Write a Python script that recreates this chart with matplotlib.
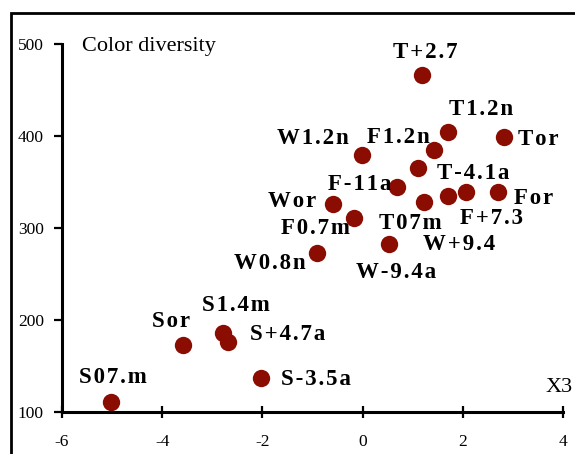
import matplotlib
matplotlib.use("Agg")
import matplotlib.pyplot as plt
from matplotlib.patches import Rectangle

# Data
labels = ["T+2.7", "T1.2n", "Tor", "W1.2n", "F1.2n", "T-4.1a", "F-11a", "Wor",
          "F0.7m", "T07m", "W+9.4", "F+7.3", "For", "W-9.4a", "W0.8n",
          "S1.4m", "Sor", "S+4.7a", "S07.m", "S-3.5a"]
x_vals = [1.18, 1.70, 2.82, -0.02, 1.42, 1.10, 0.68, -0.60,
          -0.18, 1.22, 1.70, 2.06, 2.70, 0.52, -0.92,
          -2.78, -3.58, -2.68, -5.02, -2.02]
y_vals = [466, 404, 399, 379, 385, 365, 345, 326,
          311, 328, 335, 339, 339, 283, 273,
          186, 173, 176, 111, 137]
x_ticks = [-6, -4, -2, 0, 2, 4]
y_ticks = [100, 200, 300, 400, 500]

# label offsets from each point (pixels, centre of text)
offsets = [(4, 23), (33, 23), (34, -3), (-49, 17), (-35, 12), (55, -5), (-37, 2), (-40, 3),
           (-38, -11), (-13, -21), (11, -49), (26, -26), (36, -6), (7, -29), (-47, -11),
           (13, 27), (-12, 23), (59, 8), (2, 24), (55, -2)]

serif = ["Liberation Serif", "DejaVu Serif"]
dot_color = "#8b0c00"


def spaced(s):
    # the labels in the original are letter-spaced; hair spaces mimic that
    return "\u200a".join(s)


fig = plt.figure(figsize=(5.75, 4.54), dpi=100)
ax = fig.add_axes([62 / 575, 1 - 412 / 454, 501 / 575, 368 / 454])

ax.plot(x_vals, y_vals, "o", color=dot_color, markersize=12.5, markeredgewidth=0,
        clip_on=False)

for lab, xv, yv, (dx, dy) in zip(labels, x_vals, y_vals, offsets):
    ax.annotate(spaced(lab), (xv, yv), xytext=(dx, dy), textcoords="offset pixels",
                ha="center", va="center", fontsize=16.5, fontweight="bold",
                family=serif)

ax.set_xlim(-6, 4)
ax.set_ylim(100, 500)
ax.set_xticks(x_ticks)
ax.set_yticks(y_ticks)
ax.set_xticklabels([str(t) for t in x_ticks], family=serif, fontsize=12.5)
ax.set_yticklabels([str(t) for t in y_ticks], family=serif, fontsize=12.5)

for side in ["top", "right"]:
    ax.spines[side].set_visible(False)
for side in ["left", "bottom"]:
    ax.spines[side].set_linewidth(2.2)
ax.tick_params(axis="x", direction="inout", length=8, width=1.6, pad=12)
ax.tick_params(axis="y", direction="out", length=6, width=1.6, pad=7)

fig.text(82 / 575, 1 - 47 / 454, "Color diversity", ha="left", va="center",
         fontsize=16, family=serif)
fig.text(573 / 575, 1 - 388 / 454, "X3", ha="right", va="center", fontsize=16,
         family=serif)

# outer frame, running off the right and bottom edges
top = 1 - 13 / 454
fig.patches.append(Rectangle((11 / 575, -0.1), 1.2, top + 0.1,
                             transform=fig.transFigure, fill=False,
                             edgecolor="black", linewidth=2.0))

fig.savefig("out.png", dpi=100)
